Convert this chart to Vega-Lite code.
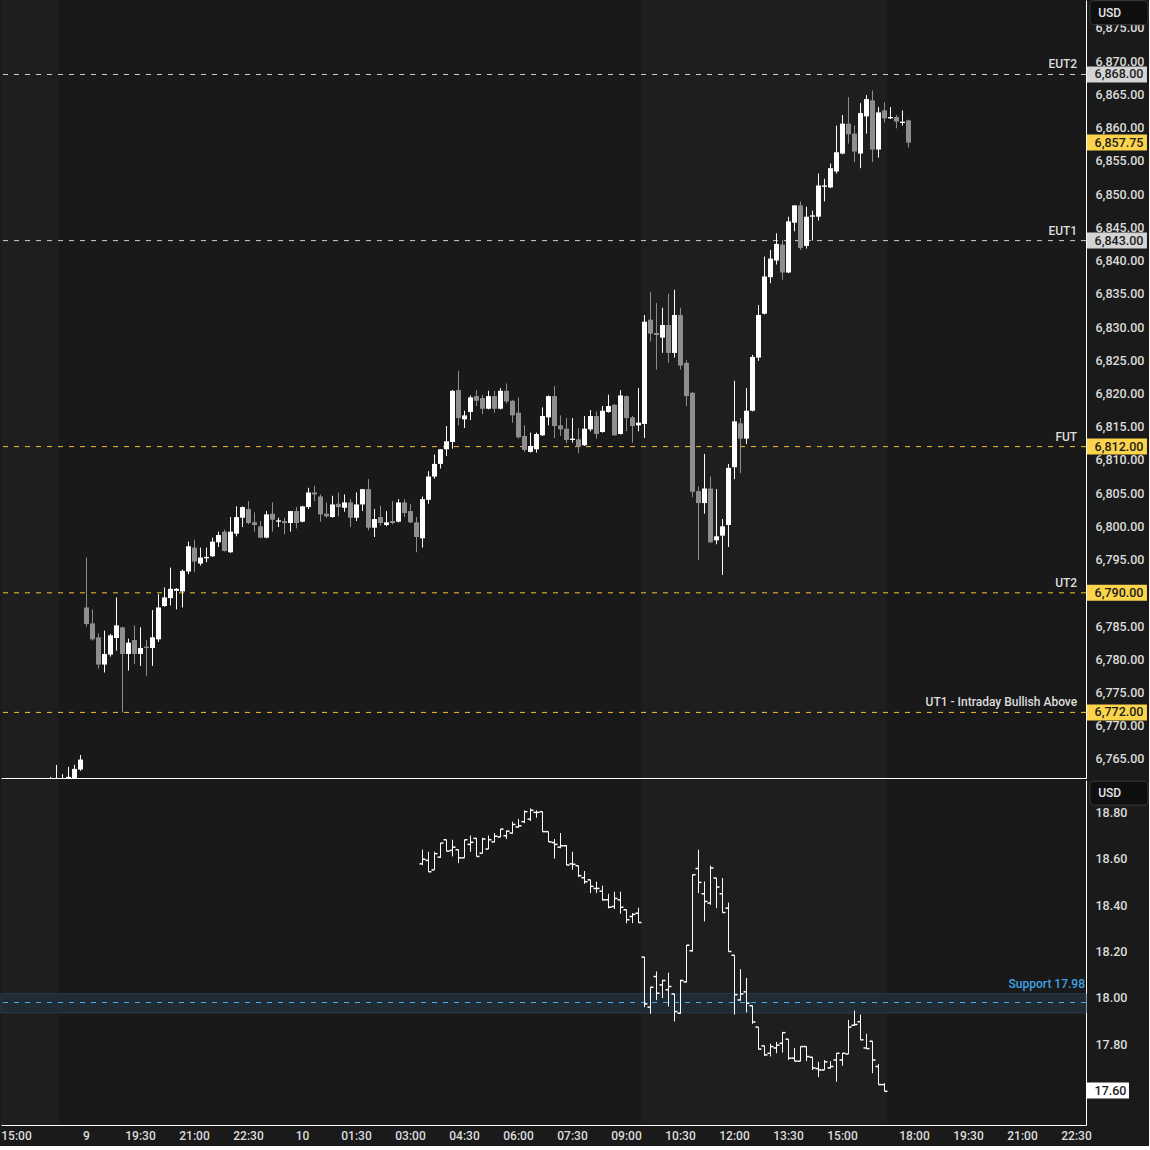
{
  "$schema": "https://vega.github.io/schema/vega-lite/v6.json",
  "background": "#1a1a1a",
  "padding": {"left": 0, "top": 0, "right": 0, "bottom": 5},
  "spacing": 2,
  "config": {
    "view": {"stroke": null, "fill": "#191919"},
    "axis": {"grid": false, "ticks": false, "labelFont": "Roboto", "labelFontSize": 12.5, "labelFontWeight": 500, "labelColor": "#dcdcdc", "domainColor": "#ffffff", "domainWidth": 1, "labelFlush": false, "labelOverlap": false}
  },
  "datasets": {
    "sessions": [{"start": -20, "end": -4.5}, {"start": 92.5, "end": 133.5}],
    "levels": [
      {"name": "EUT2", "price": 6868, "group": "extension"},
      {"name": "EUT1", "price": 6843, "group": "extension"},
      {"name": "FUT", "price": 6812, "group": "target"},
      {"name": "UT2", "price": 6790, "group": "target"},
      {"name": "UT1 - Intraday Bullish Above", "price": 6772, "group": "target"}
    ],
    "esLast": [{"price": 6857.75}],
    "vixLast": [{"price": 17.6}],
    "support": [{"label": "Support 17.98", "level": 17.98, "low": 17.935, "high": 18.018}],
    "es": [
      {"slot": -6, "o": 6761.0, "h": 6762.3, "l": 6760.0, "c": 6761.5},
      {"slot": -5, "o": 6761.5, "h": 6764.1, "l": 6760.5, "c": 6761.8},
      {"slot": -4, "o": 6761.2, "h": 6762.7, "l": 6760.8, "c": 6761.9},
      {"slot": -3, "o": 6761.5, "h": 6763.8, "l": 6761.0, "c": 6762.3},
      {"slot": -2, "o": 6761.8, "h": 6764.1, "l": 6761.6, "c": 6763.5},
      {"slot": -1, "o": 6763.4, "h": 6765.6, "l": 6763.2, "c": 6764.9},
      {"slot": 0, "o": 6787.8, "h": 6795.3, "l": 6784.9, "c": 6785.3},
      {"slot": 1, "o": 6785.4, "h": 6787.5, "l": 6782.8, "c": 6783.0},
      {"slot": 2, "o": 6783.3, "h": 6783.9, "l": 6778.6, "c": 6779.2},
      {"slot": 3, "o": 6779.2, "h": 6784.3, "l": 6778.0, "c": 6780.8},
      {"slot": 4, "o": 6780.7, "h": 6783.8, "l": 6780.4, "c": 6783.6},
      {"slot": 5, "o": 6783.2, "h": 6789.3, "l": 6781.3, "c": 6785.1},
      {"slot": 6, "o": 6784.8, "h": 6784.9, "l": 6772.0, "c": 6780.8},
      {"slot": 7, "o": 6780.8, "h": 6783.1, "l": 6778.3, "c": 6782.5},
      {"slot": 8, "o": 6782.9, "h": 6785.1, "l": 6779.3, "c": 6780.8},
      {"slot": 9, "o": 6780.8, "h": 6784.8, "l": 6779.0, "c": 6781.7},
      {"slot": 10, "o": 6781.9, "h": 6782.9, "l": 6777.5, "c": 6781.7},
      {"slot": 11, "o": 6781.7, "h": 6787.4, "l": 6779.0, "c": 6783.3},
      {"slot": 12, "o": 6783.0, "h": 6789.8, "l": 6782.6, "c": 6787.8},
      {"slot": 13, "o": 6788.0, "h": 6790.8, "l": 6787.9, "c": 6789.3},
      {"slot": 14, "o": 6789.2, "h": 6793.8, "l": 6788.1, "c": 6790.6},
      {"slot": 15, "o": 6790.3, "h": 6790.7, "l": 6787.5, "c": 6790.6},
      {"slot": 16, "o": 6790.2, "h": 6793.5, "l": 6787.8, "c": 6793.3},
      {"slot": 17, "o": 6793.2, "h": 6797.7, "l": 6792.8, "c": 6797.0},
      {"slot": 18, "o": 6796.8, "h": 6798.0, "l": 6793.1, "c": 6794.7},
      {"slot": 19, "o": 6794.4, "h": 6796.8, "l": 6794.1, "c": 6795.3},
      {"slot": 20, "o": 6795.2, "h": 6796.8, "l": 6794.6, "c": 6795.4},
      {"slot": 21, "o": 6795.5, "h": 6798.3, "l": 6795.4, "c": 6797.7},
      {"slot": 22, "o": 6797.6, "h": 6799.2, "l": 6796.9, "c": 6798.7},
      {"slot": 23, "o": 6799.2, "h": 6799.5, "l": 6796.2, "c": 6796.3},
      {"slot": 24, "o": 6796.1, "h": 6801.4, "l": 6796.0, "c": 6799.2},
      {"slot": 25, "o": 6798.9, "h": 6803.0, "l": 6798.5, "c": 6801.4},
      {"slot": 26, "o": 6801.3, "h": 6803.0, "l": 6799.9, "c": 6802.9},
      {"slot": 27, "o": 6802.6, "h": 6803.8, "l": 6800.3, "c": 6800.5},
      {"slot": 28, "o": 6800.6, "h": 6802.1, "l": 6799.2, "c": 6800.2},
      {"slot": 29, "o": 6800.0, "h": 6800.8, "l": 6798.2, "c": 6798.3},
      {"slot": 30, "o": 6798.3, "h": 6802.3, "l": 6798.2, "c": 6801.8},
      {"slot": 31, "o": 6801.9, "h": 6803.6, "l": 6799.2, "c": 6801.0},
      {"slot": 32, "o": 6800.7, "h": 6801.3, "l": 6799.9, "c": 6800.9},
      {"slot": 33, "o": 6800.8, "h": 6801.3, "l": 6798.8, "c": 6800.5},
      {"slot": 34, "o": 6800.5, "h": 6802.3, "l": 6799.2, "c": 6802.3},
      {"slot": 35, "o": 6802.3, "h": 6802.9, "l": 6799.7, "c": 6800.5},
      {"slot": 36, "o": 6800.7, "h": 6803.1, "l": 6800.6, "c": 6803.0},
      {"slot": 37, "o": 6802.9, "h": 6805.8, "l": 6802.6, "c": 6805.1},
      {"slot": 38, "o": 6805.1, "h": 6806.1, "l": 6803.8, "c": 6804.8},
      {"slot": 39, "o": 6804.5, "h": 6804.8, "l": 6800.7, "c": 6801.8},
      {"slot": 40, "o": 6801.9, "h": 6803.6, "l": 6801.3, "c": 6801.5},
      {"slot": 41, "o": 6801.4, "h": 6804.6, "l": 6801.3, "c": 6803.3},
      {"slot": 42, "o": 6803.4, "h": 6805.1, "l": 6801.5, "c": 6802.9},
      {"slot": 43, "o": 6802.8, "h": 6804.8, "l": 6802.2, "c": 6803.6},
      {"slot": 44, "o": 6803.6, "h": 6804.1, "l": 6799.9, "c": 6801.3},
      {"slot": 45, "o": 6801.3, "h": 6805.1, "l": 6800.8, "c": 6803.3},
      {"slot": 46, "o": 6803.3, "h": 6805.6, "l": 6802.3, "c": 6805.6},
      {"slot": 47, "o": 6805.6, "h": 6807.1, "l": 6799.4, "c": 6799.8},
      {"slot": 48, "o": 6799.8, "h": 6802.6, "l": 6798.4, "c": 6801.1},
      {"slot": 49, "o": 6801.4, "h": 6803.1, "l": 6800.1, "c": 6800.5},
      {"slot": 50, "o": 6800.2, "h": 6802.3, "l": 6800.0, "c": 6800.6},
      {"slot": 51, "o": 6800.8, "h": 6803.8, "l": 6800.3, "c": 6800.5},
      {"slot": 52, "o": 6800.7, "h": 6804.1, "l": 6800.6, "c": 6803.6},
      {"slot": 53, "o": 6803.6, "h": 6804.1, "l": 6801.4, "c": 6802.0},
      {"slot": 54, "o": 6802.3, "h": 6803.4, "l": 6800.5, "c": 6800.6},
      {"slot": 55, "o": 6800.6, "h": 6801.4, "l": 6796.1, "c": 6798.4},
      {"slot": 56, "o": 6798.2, "h": 6804.5, "l": 6796.8, "c": 6804.1},
      {"slot": 57, "o": 6804.0, "h": 6808.3, "l": 6803.4, "c": 6807.5},
      {"slot": 58, "o": 6807.5, "h": 6810.8, "l": 6807.2, "c": 6809.4},
      {"slot": 59, "o": 6809.4, "h": 6811.6, "l": 6808.7, "c": 6811.6},
      {"slot": 60, "o": 6811.6, "h": 6815.1, "l": 6810.6, "c": 6812.8},
      {"slot": 61, "o": 6812.7, "h": 6820.5, "l": 6811.7, "c": 6820.4},
      {"slot": 62, "o": 6820.5, "h": 6823.4, "l": 6815.2, "c": 6816.3},
      {"slot": 63, "o": 6816.1, "h": 6817.4, "l": 6814.8, "c": 6816.7},
      {"slot": 64, "o": 6817.2, "h": 6819.7, "l": 6816.0, "c": 6819.4},
      {"slot": 65, "o": 6819.6, "h": 6820.5, "l": 6818.1, "c": 6818.9},
      {"slot": 66, "o": 6819.3, "h": 6819.8, "l": 6816.9, "c": 6817.7},
      {"slot": 67, "o": 6817.7, "h": 6820.4, "l": 6817.6, "c": 6819.6},
      {"slot": 68, "o": 6819.6, "h": 6820.4, "l": 6817.1, "c": 6817.7},
      {"slot": 69, "o": 6817.7, "h": 6820.8, "l": 6817.6, "c": 6820.4},
      {"slot": 70, "o": 6820.4, "h": 6821.5, "l": 6818.5, "c": 6818.8},
      {"slot": 71, "o": 6818.9, "h": 6819.0, "l": 6815.6, "c": 6816.7},
      {"slot": 72, "o": 6817.1, "h": 6819.4, "l": 6813.2, "c": 6813.4},
      {"slot": 73, "o": 6813.6, "h": 6815.2, "l": 6811.2, "c": 6811.5},
      {"slot": 74, "o": 6811.2, "h": 6814.1, "l": 6811.1, "c": 6812.1},
      {"slot": 75, "o": 6811.6, "h": 6814.1, "l": 6811.1, "c": 6813.9},
      {"slot": 76, "o": 6813.7, "h": 6817.9, "l": 6813.6, "c": 6816.6},
      {"slot": 77, "o": 6816.4, "h": 6819.7, "l": 6815.2, "c": 6819.6},
      {"slot": 78, "o": 6819.6, "h": 6821.1, "l": 6813.3, "c": 6815.1},
      {"slot": 79, "o": 6815.2, "h": 6816.7, "l": 6813.6, "c": 6814.6},
      {"slot": 80, "o": 6814.7, "h": 6816.3, "l": 6812.5, "c": 6813.0},
      {"slot": 81, "o": 6813.0, "h": 6816.3, "l": 6812.6, "c": 6813.2},
      {"slot": 82, "o": 6813.1, "h": 6814.8, "l": 6811.0, "c": 6812.0},
      {"slot": 83, "o": 6812.2, "h": 6816.6, "l": 6812.1, "c": 6814.7},
      {"slot": 84, "o": 6814.6, "h": 6817.5, "l": 6814.3, "c": 6816.6},
      {"slot": 85, "o": 6816.6, "h": 6817.3, "l": 6813.2, "c": 6813.9},
      {"slot": 86, "o": 6814.2, "h": 6818.1, "l": 6814.1, "c": 6817.4},
      {"slot": 87, "o": 6817.2, "h": 6819.8, "l": 6817.1, "c": 6818.1},
      {"slot": 88, "o": 6818.3, "h": 6818.4, "l": 6813.6, "c": 6813.7},
      {"slot": 89, "o": 6813.9, "h": 6820.5, "l": 6813.8, "c": 6819.7},
      {"slot": 90, "o": 6819.6, "h": 6819.7, "l": 6814.3, "c": 6816.3},
      {"slot": 91, "o": 6816.4, "h": 6816.6, "l": 6812.6, "c": 6815.1},
      {"slot": 92, "o": 6815.2, "h": 6820.8, "l": 6814.3, "c": 6815.6},
      {"slot": 93, "o": 6815.4, "h": 6831.8, "l": 6813.3, "c": 6830.8},
      {"slot": 94, "o": 6831.1, "h": 6835.3, "l": 6827.8, "c": 6829.0},
      {"slot": 95, "o": 6829.1, "h": 6833.6, "l": 6823.6, "c": 6828.8},
      {"slot": 96, "o": 6828.4, "h": 6832.9, "l": 6826.1, "c": 6830.3},
      {"slot": 97, "o": 6830.3, "h": 6835.0, "l": 6824.6, "c": 6826.1},
      {"slot": 98, "o": 6826.1, "h": 6835.6, "l": 6825.4, "c": 6831.8},
      {"slot": 99, "o": 6831.8, "h": 6832.9, "l": 6823.6, "c": 6824.2},
      {"slot": 100, "o": 6824.6, "h": 6825.0, "l": 6818.1, "c": 6819.6},
      {"slot": 101, "o": 6820.1, "h": 6820.2, "l": 6804.4, "c": 6805.2},
      {"slot": 102, "o": 6805.3, "h": 6806.0, "l": 6794.9, "c": 6803.5},
      {"slot": 103, "o": 6803.5, "h": 6810.9, "l": 6801.9, "c": 6805.7},
      {"slot": 104, "o": 6805.7, "h": 6807.5, "l": 6797.5, "c": 6797.6},
      {"slot": 105, "o": 6797.9, "h": 6805.6, "l": 6797.3, "c": 6798.5},
      {"slot": 106, "o": 6798.6, "h": 6801.1, "l": 6792.7, "c": 6800.0},
      {"slot": 107, "o": 6800.2, "h": 6809.4, "l": 6796.9, "c": 6808.8},
      {"slot": 108, "o": 6808.9, "h": 6821.9, "l": 6807.1, "c": 6815.8},
      {"slot": 109, "o": 6815.5, "h": 6816.3, "l": 6808.0, "c": 6813.2},
      {"slot": 110, "o": 6813.2, "h": 6820.8, "l": 6812.4, "c": 6817.4},
      {"slot": 111, "o": 6817.4, "h": 6825.8, "l": 6817.3, "c": 6825.5},
      {"slot": 112, "o": 6825.4, "h": 6833.3, "l": 6824.9, "c": 6831.8},
      {"slot": 113, "o": 6832.0, "h": 6840.6, "l": 6831.9, "c": 6837.6},
      {"slot": 114, "o": 6837.5, "h": 6841.6, "l": 6836.6, "c": 6840.3},
      {"slot": 115, "o": 6840.0, "h": 6844.1, "l": 6839.4, "c": 6842.5},
      {"slot": 116, "o": 6842.4, "h": 6843.1, "l": 6837.1, "c": 6838.2},
      {"slot": 117, "o": 6838.2, "h": 6846.6, "l": 6838.1, "c": 6845.9},
      {"slot": 118, "o": 6845.7, "h": 6848.3, "l": 6844.4, "c": 6848.3},
      {"slot": 119, "o": 6848.3, "h": 6848.9, "l": 6841.6, "c": 6841.9},
      {"slot": 120, "o": 6842.2, "h": 6848.1, "l": 6841.8, "c": 6846.6},
      {"slot": 121, "o": 6846.6, "h": 6847.5, "l": 6843.0, "c": 6846.8},
      {"slot": 122, "o": 6846.6, "h": 6853.1, "l": 6846.0, "c": 6851.3},
      {"slot": 123, "o": 6851.1, "h": 6852.3, "l": 6848.9, "c": 6851.3},
      {"slot": 124, "o": 6851.0, "h": 6854.6, "l": 6850.9, "c": 6853.9},
      {"slot": 125, "o": 6853.4, "h": 6860.3, "l": 6853.1, "c": 6856.3},
      {"slot": 126, "o": 6856.1, "h": 6861.9, "l": 6856.0, "c": 6860.6},
      {"slot": 127, "o": 6860.6, "h": 6864.6, "l": 6857.6, "c": 6859.0},
      {"slot": 128, "o": 6859.1, "h": 6860.3, "l": 6854.8, "c": 6856.4},
      {"slot": 129, "o": 6856.1, "h": 6863.7, "l": 6853.9, "c": 6862.2},
      {"slot": 130, "o": 6861.7, "h": 6864.9, "l": 6859.1, "c": 6864.3},
      {"slot": 131, "o": 6864.1, "h": 6865.6, "l": 6854.8, "c": 6856.7},
      {"slot": 132, "o": 6856.7, "h": 6863.1, "l": 6855.5, "c": 6862.3},
      {"slot": 133, "o": 6862.6, "h": 6863.8, "l": 6860.8, "c": 6861.4},
      {"slot": 134, "o": 6861.4, "h": 6863.1, "l": 6861.3, "c": 6861.6},
      {"slot": 135, "o": 6861.6, "h": 6861.9, "l": 6859.9, "c": 6860.9},
      {"slot": 136, "o": 6860.7, "h": 6862.6, "l": 6860.3, "c": 6860.9},
      {"slot": 137, "o": 6861.1, "h": 6861.2, "l": 6857.0, "c": 6857.75}
    ],
    "vix": [
      {"slot": 56, "o": 18.578, "h": 18.639, "l": 18.573, "c": 18.598},
      {"slot": 57, "o": 18.593, "h": 18.630, "l": 18.544, "c": 18.544},
      {"slot": 58, "o": 18.552, "h": 18.630, "l": 18.552, "c": 18.622},
      {"slot": 59, "o": 18.607, "h": 18.668, "l": 18.604, "c": 18.668},
      {"slot": 60, "o": 18.682, "h": 18.682, "l": 18.633, "c": 18.633},
      {"slot": 61, "o": 18.636, "h": 18.682, "l": 18.610, "c": 18.650},
      {"slot": 62, "o": 18.639, "h": 18.639, "l": 18.581, "c": 18.604},
      {"slot": 63, "o": 18.604, "h": 18.682, "l": 18.604, "c": 18.682},
      {"slot": 64, "o": 18.662, "h": 18.700, "l": 18.630, "c": 18.671},
      {"slot": 65, "o": 18.688, "h": 18.688, "l": 18.610, "c": 18.610},
      {"slot": 66, "o": 18.624, "h": 18.691, "l": 18.624, "c": 18.685},
      {"slot": 67, "o": 18.642, "h": 18.700, "l": 18.642, "c": 18.682},
      {"slot": 68, "o": 18.673, "h": 18.711, "l": 18.671, "c": 18.697},
      {"slot": 69, "o": 18.694, "h": 18.728, "l": 18.694, "c": 18.728},
      {"slot": 70, "o": 18.699, "h": 18.722, "l": 18.685, "c": 18.719},
      {"slot": 71, "o": 18.711, "h": 18.760, "l": 18.708, "c": 18.748},
      {"slot": 72, "o": 18.737, "h": 18.771, "l": 18.734, "c": 18.742},
      {"slot": 73, "o": 18.760, "h": 18.809, "l": 18.754, "c": 18.803},
      {"slot": 74, "o": 18.771, "h": 18.817, "l": 18.763, "c": 18.809},
      {"slot": 75, "o": 18.800, "h": 18.809, "l": 18.777, "c": 18.800},
      {"slot": 76, "o": 18.803, "h": 18.803, "l": 18.717, "c": 18.717},
      {"slot": 77, "o": 18.717, "h": 18.717, "l": 18.673, "c": 18.673},
      {"slot": 78, "o": 18.670, "h": 18.685, "l": 18.601, "c": 18.662},
      {"slot": 79, "o": 18.650, "h": 18.711, "l": 18.645, "c": 18.656},
      {"slot": 80, "o": 18.656, "h": 18.659, "l": 18.573, "c": 18.573},
      {"slot": 81, "o": 18.578, "h": 18.630, "l": 18.553, "c": 18.576},
      {"slot": 82, "o": 18.570, "h": 18.570, "l": 18.521, "c": 18.527},
      {"slot": 83, "o": 18.518, "h": 18.547, "l": 18.492, "c": 18.501},
      {"slot": 84, "o": 18.509, "h": 18.509, "l": 18.452, "c": 18.481},
      {"slot": 85, "o": 18.472, "h": 18.501, "l": 18.452, "c": 18.472},
      {"slot": 86, "o": 18.460, "h": 18.484, "l": 18.420, "c": 18.423},
      {"slot": 87, "o": 18.423, "h": 18.449, "l": 18.386, "c": 18.391},
      {"slot": 88, "o": 18.394, "h": 18.458, "l": 18.383, "c": 18.429},
      {"slot": 89, "o": 18.423, "h": 18.458, "l": 18.363, "c": 18.391},
      {"slot": 90, "o": 18.380, "h": 18.380, "l": 18.322, "c": 18.337},
      {"slot": 91, "o": 18.351, "h": 18.366, "l": 18.322, "c": 18.360},
      {"slot": 92, "o": 18.365, "h": 18.389, "l": 18.325, "c": 18.325},
      {"slot": 93, "o": 18.176, "h": 18.176, "l": 17.960, "c": 17.974},
      {"slot": 94, "o": 17.960, "h": 18.046, "l": 17.931, "c": 18.046},
      {"slot": 95, "o": 18.092, "h": 18.114, "l": 17.990, "c": 18.020},
      {"slot": 96, "o": 18.056, "h": 18.078, "l": 17.999, "c": 18.075},
      {"slot": 97, "o": 18.035, "h": 18.109, "l": 17.963, "c": 18.049},
      {"slot": 98, "o": 18.017, "h": 18.017, "l": 17.898, "c": 17.941},
      {"slot": 99, "o": 17.934, "h": 18.078, "l": 17.931, "c": 18.075},
      {"slot": 100, "o": 18.069, "h": 18.227, "l": 18.066, "c": 18.227},
      {"slot": 101, "o": 18.203, "h": 18.531, "l": 18.200, "c": 18.531},
      {"slot": 102, "o": 18.558, "h": 18.639, "l": 18.452, "c": 18.498},
      {"slot": 103, "o": 18.449, "h": 18.502, "l": 18.330, "c": 18.416},
      {"slot": 104, "o": 18.409, "h": 18.570, "l": 18.401, "c": 18.560},
      {"slot": 105, "o": 18.517, "h": 18.517, "l": 18.387, "c": 18.478},
      {"slot": 106, "o": 18.449, "h": 18.517, "l": 18.368, "c": 18.368},
      {"slot": 107, "o": 18.387, "h": 18.411, "l": 18.200, "c": 18.200},
      {"slot": 108, "o": 18.184, "h": 18.184, "l": 17.928, "c": 18.014},
      {"slot": 109, "o": 17.991, "h": 18.124, "l": 17.988, "c": 18.017},
      {"slot": 110, "o": 18.026, "h": 18.086, "l": 17.937, "c": 17.977},
      {"slot": 111, "o": 17.966, "h": 17.966, "l": 17.888, "c": 17.896},
      {"slot": 112, "o": 17.874, "h": 17.874, "l": 17.779, "c": 17.779},
      {"slot": 113, "o": 17.793, "h": 17.793, "l": 17.750, "c": 17.754},
      {"slot": 114, "o": 17.761, "h": 17.802, "l": 17.747, "c": 17.790},
      {"slot": 115, "o": 17.784, "h": 17.810, "l": 17.761, "c": 17.796},
      {"slot": 116, "o": 17.804, "h": 17.853, "l": 17.764, "c": 17.850},
      {"slot": 117, "o": 17.822, "h": 17.822, "l": 17.732, "c": 17.740},
      {"slot": 118, "o": 17.740, "h": 17.784, "l": 17.727, "c": 17.727},
      {"slot": 119, "o": 17.727, "h": 17.790, "l": 17.727, "c": 17.790},
      {"slot": 120, "o": 17.790, "h": 17.790, "l": 17.727, "c": 17.747},
      {"slot": 121, "o": 17.744, "h": 17.744, "l": 17.689, "c": 17.698},
      {"slot": 122, "o": 17.695, "h": 17.724, "l": 17.658, "c": 17.689},
      {"slot": 123, "o": 17.689, "h": 17.732, "l": 17.689, "c": 17.724},
      {"slot": 124, "o": 17.698, "h": 17.727, "l": 17.695, "c": 17.704},
      {"slot": 125, "o": 17.732, "h": 17.761, "l": 17.638, "c": 17.761},
      {"slot": 126, "o": 17.732, "h": 17.761, "l": 17.707, "c": 17.761},
      {"slot": 127, "o": 17.758, "h": 17.905, "l": 17.758, "c": 17.874},
      {"slot": 128, "o": 17.882, "h": 17.945, "l": 17.879, "c": 17.885},
      {"slot": 129, "o": 17.897, "h": 17.928, "l": 17.819, "c": 17.819},
      {"slot": 130, "o": 17.784, "h": 17.845, "l": 17.781, "c": 17.781},
      {"slot": 131, "o": 17.813, "h": 17.813, "l": 17.675, "c": 17.732},
      {"slot": 132, "o": 17.704, "h": 17.715, "l": 17.626, "c": 17.626},
      {"slot": 133, "o": 17.626, "h": 17.632, "l": 17.597, "c": 17.597}
    ]
  },
  "vconcat": [
    {
      "width": 1085,
      "height": 778,
      "resolve": {"scale": {"color": "independent"}},
      "layer": [
        {
          "data": {"name": "sessions"},
          "mark": {"type": "rect", "color": "#1e1e1e", "clip": true},
          "encoding": {
            "x": {"field": "start", "type": "quantitative", "title": null,
                  "scale": {"domain": [-14.17, 166.67], "nice": false, "zero": false, "padding": 0},
                  "axis": {"orient": "bottom", "labels": false, "ticks": false, "domain": true, "title": null}},
            "x2": {"field": "end"}
          }
        },
        {
          "data": {"name": "levels"},
          "mark": {"type": "rule", "strokeDash": [5, 6], "strokeWidth": 1},
          "encoding": {
            "y": {"field": "price", "type": "quantitative", "title": null,
                  "scale": {"domain": [6762.13, 6879.21], "nice": false, "zero": false, "padding": 0},
                  "axis": {"orient": "right", "format": ",.2f", "labelPadding": 9, "title": null, "labelOverlap": false, "tickCount": 100,
                           "values": [6765, 6770, 6775, 6780, 6785, 6790, 6795, 6800, 6805, 6810, 6815, 6820, 6825, 6830, 6835, 6840, 6845, 6850, 6855, 6860, 6865, 6870, 6875]}},
            "color": {"field": "group", "type": "nominal", "legend": null,
                      "scale": {"domain": ["extension", "target"], "range": ["#cfcfcf", "#f2c230"]}}
          }
        },
        {
          "data": {"name": "levels"},
          "mark": {"type": "text", "align": "right", "baseline": "bottom", "dy": -3, "font": "Roboto", "fontSize": 12, "fontWeight": 500, "color": "#dedede"},
          "encoding": {
            "x": {"datum": 165.2, "type": "quantitative"},
            "y": {"field": "price", "type": "quantitative", "title": null},
            "text": {"field": "name"}
          }
        },
        {
          "data": {"name": "es"},
          "mark": {"type": "rule", "strokeWidth": 1, "xOffset": 0.5, "clip": true},
          "encoding": {
            "x": {"field": "slot", "type": "quantitative", "title": null},
            "y": {"field": "l", "type": "quantitative", "title": null},
            "y2": {"field": "h"},
            "color": {"condition": {"test": "datum.c >= datum.o", "value": "#ffffff"}, "value": "#8e8e8e"}
          }
        },
        {
          "data": {"name": "es"},
          "mark": {"type": "bar", "size": 5, "xOffset": 0.5, "clip": true, "orient": "vertical"},
          "encoding": {
            "x": {"field": "slot", "type": "quantitative", "title": null},
            "y": {"field": "o", "type": "quantitative", "title": null},
            "y2": {"field": "c"},
            "color": {"condition": {"test": "datum.c >= datum.o", "value": "#ffffff"}, "value": "#8e8e8e"}
          }
        },
        {
          "data": {"name": "levels"},
          "mark": {"type": "bar", "orient": "horizontal", "size": 16},
          "encoding": {
            "x": {"datum": 166.83, "type": "quantitative"},
            "x2": {"datum": 176.83},
            "y": {"field": "price", "type": "quantitative", "title": null},
            "fill": {"field": "group", "type": "nominal", "legend": null,
                      "scale": {"domain": ["extension", "target"], "range": ["#d4d4d4", "#fbd44c"]}}
          }
        },
        {
          "data": {"name": "esLast"},
          "mark": {"type": "bar", "orient": "horizontal", "size": 16, "color": "#fbd44c"},
          "encoding": {
            "x": {"datum": 166.83, "type": "quantitative"},
            "x2": {"datum": 176.83},
            "y": {"field": "price", "type": "quantitative", "title": null}
          }
        },
        {
          "data": {"name": "levels"},
          "mark": {"type": "text", "align": "left", "baseline": "middle", "font": "Roboto", "fontSize": 12.5, "fontWeight": 500, "color": "#1c1c1c"},
          "encoding": {
            "x": {"datum": 168.1, "type": "quantitative"},
            "y": {"field": "price", "type": "quantitative", "title": null},
            "text": {"field": "price", "type": "quantitative", "format": ",.2f"}
          }
        },
        {
          "data": {"name": "esLast"},
          "mark": {"type": "text", "align": "left", "baseline": "middle", "font": "Roboto", "fontSize": 12.5, "fontWeight": 500, "color": "#1c1c1c"},
          "encoding": {
            "x": {"datum": 168.1, "type": "quantitative"},
            "y": {"field": "price", "type": "quantitative", "title": null},
            "text": {"field": "price", "type": "quantitative", "format": ",.2f"}
          }
        },
        {
          "data": {"values": [{"unit": "USD"}]},
          "mark": {"type": "bar", "orient": "horizontal", "size": 24, "color": "#0f0f0f", "stroke": "#3a3a3a", "strokeWidth": 1, "cornerRadius": 4},
          "encoding": {
            "x": {"datum": 167.33, "type": "quantitative"},
            "x2": {"datum": 177},
            "y": {"datum": 6877.3, "type": "quantitative"}
          }
        },
        {
          "data": {"values": [{"unit": "USD"}]},
          "mark": {"type": "text", "align": "left", "baseline": "middle", "font": "Roboto", "fontSize": 12, "fontWeight": 500, "color": "#e6e6e6"},
          "encoding": {
            "x": {"datum": 168.7, "type": "quantitative"},
            "y": {"datum": 6877.3, "type": "quantitative"},
            "text": {"field": "unit"}
          }
        }
      ]
    },
    {
      "width": 1085,
      "height": 345,
      "layer": [
        {
          "data": {"name": "sessions"},
          "mark": {"type": "rect", "color": "#1e1e1e", "clip": true},
          "encoding": {
            "x": {"field": "start", "type": "quantitative", "title": null,
                  "scale": {"domain": [-14.17, 166.67], "nice": false, "zero": false, "padding": 0},
                  "axis": {"orient": "bottom", "labelPadding": 5, "labelFontSize": 12, "title": null, "labelOverlap": false, "tickCount": 100,
                           "labelOffset": {"condition": {"test": "datum.value == -12", "value": 2}, "value": 0},
                           "values": [-12, 0, 9, 18, 27, 36, 45, 54, 63, 72, 81, 90, 99, 108, 117, 126, 138, 147, 156, 165],
                           "labelExpr": "['15:00','9','19:30','21:00','22:30','10','01:30','03:00','04:30','06:00','07:30','09:00','10:30','12:00','13:30','15:00','18:00','19:30','21:00','22:30'][indexof([-12,0,9,18,27,36,45,54,63,72,81,90,99,108,117,126,138,147,156,165], datum.value)]"}},
            "x2": {"field": "end"}
          }
        },
        {
          "data": {"name": "support"},
          "mark": {"type": "rect", "color": "#1f2b35", "stroke": "#2b3c4a", "strokeWidth": 1},
          "encoding": {
            "y": {"field": "low", "type": "quantitative", "title": null,
                  "scale": {"domain": [17.4517, 18.9397], "nice": false, "zero": false, "padding": 0},
                  "axis": {"orient": "right", "format": ".2f", "labelPadding": 9, "title": null, "labelOverlap": false, "tickCount": 100,
                           "values": [17.6, 17.8, 18.0, 18.2, 18.4, 18.6, 18.8]}},
            "y2": {"field": "high"}
          }
        },
        {
          "data": {"name": "support"},
          "mark": {"type": "rule", "strokeDash": [5, 6], "strokeWidth": 1, "color": "#4aa8e0"},
          "encoding": {
            "y": {"field": "level", "type": "quantitative", "title": null}
          }
        },
        {
          "data": {"name": "support"},
          "mark": {"type": "text", "align": "right", "baseline": "bottom", "dy": -3, "font": "Roboto", "fontSize": 12, "fontWeight": 500, "color": "#3fa3e0"},
          "encoding": {
            "x": {"datum": 166.5, "type": "quantitative"},
            "y": {"field": "high", "type": "quantitative", "title": null},
            "text": {"field": "label"}
          }
        },
        {
          "data": {"name": "vix"},
          "mark": {"type": "rule", "strokeWidth": 1, "xOffset": 0.5, "color": "#ffffff"},
          "encoding": {
            "x": {"field": "slot", "type": "quantitative", "title": null},
            "y": {"field": "l", "type": "quantitative", "title": null},
            "y2": {"field": "h"}
          }
        },
        {
          "data": {"name": "vix"},
          "mark": {"type": "tick", "orient": "horizontal", "size": 3, "thickness": 1.5, "xOffset": -1, "color": "#ffffff", "opacity": 1},
          "encoding": {
            "x": {"field": "slot", "type": "quantitative", "title": null},
            "y": {"field": "o", "type": "quantitative", "title": null}
          }
        },
        {
          "data": {"name": "vix"},
          "mark": {"type": "tick", "orient": "horizontal", "size": 3, "thickness": 1.5, "xOffset": 2, "color": "#ffffff", "opacity": 1},
          "encoding": {
            "x": {"field": "slot", "type": "quantitative", "title": null},
            "y": {"field": "c", "type": "quantitative", "title": null}
          }
        },
        {
          "data": {"name": "vixLast"},
          "mark": {"type": "bar", "orient": "horizontal", "size": 16, "color": "#ffffff"},
          "encoding": {
            "x": {"datum": 166.83, "type": "quantitative"},
            "x2": {"datum": 173.83},
            "y": {"field": "price", "type": "quantitative", "title": null}
          }
        },
        {
          "data": {"name": "vixLast"},
          "mark": {"type": "text", "align": "left", "baseline": "middle", "font": "Roboto", "fontSize": 12.5, "fontWeight": 500, "color": "#1c1c1c"},
          "encoding": {
            "x": {"datum": 168.1, "type": "quantitative"},
            "y": {"field": "price", "type": "quantitative", "title": null},
            "text": {"field": "price", "type": "quantitative", "format": ".2f"}
          }
        },
        {
          "data": {"values": [{"unit": "USD"}]},
          "mark": {"type": "bar", "orient": "horizontal", "size": 24, "color": "#0f0f0f", "stroke": "#3a3a3a", "strokeWidth": 1, "cornerRadius": 4},
          "encoding": {
            "x": {"datum": 167.33, "type": "quantitative"},
            "x2": {"datum": 177},
            "y": {"datum": 18.883, "type": "quantitative"}
          }
        },
        {
          "data": {"values": [{"unit": "USD"}]},
          "mark": {"type": "text", "align": "left", "baseline": "middle", "font": "Roboto", "fontSize": 12, "fontWeight": 500, "color": "#e6e6e6"},
          "encoding": {
            "x": {"datum": 168.7, "type": "quantitative"},
            "y": {"datum": 18.883, "type": "quantitative"},
            "text": {"field": "unit"}
          }
        }
      ]
    }
  ]
}
